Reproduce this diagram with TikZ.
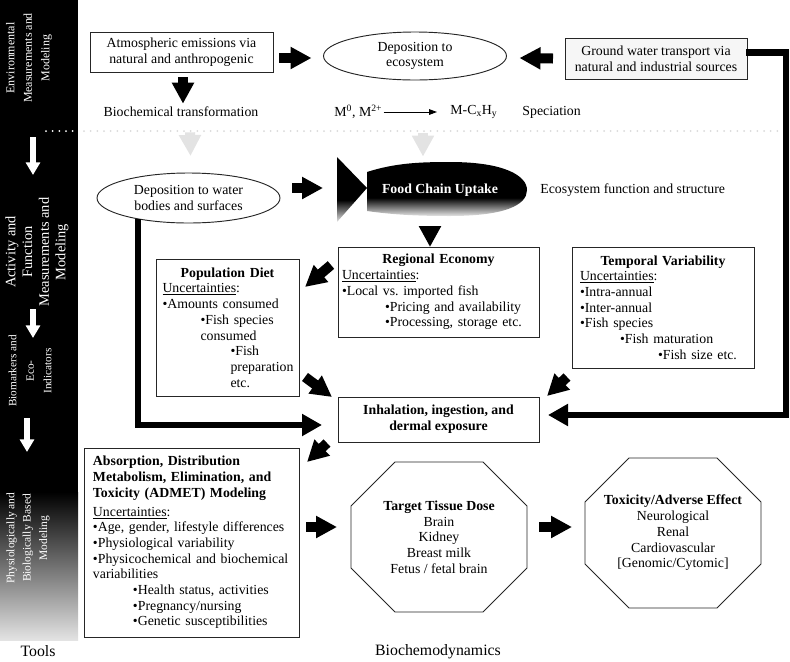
\documentclass[tikz,border=0pt]{standalone}
\usepackage{fontspec}
\setmainfont{Liberation Serif}
\usetikzlibrary{shapes.geometric,arrows.meta,positioning,calc}

\newcommand{\bodyfont}{\fontsize{11.8}{13.4}\selectfont\hyphenpenalty=10000 }
\newcommand{\labelfont}{\fontsize{13.5}{16}\selectfont}
\newcommand{\ind}[1]{\hspace*{#1}}
\newcommand{\unc}{\underline{Uncertainties}:}
\newcommand{\octagon}[1]{%
  \draw[octline] ($(#1.north west)+(44,0)$) -- ($(#1.north east)+(-44,0)$) -- ($(#1.north east)+(0,44)$)
    -- ($(#1.south east)+(0,-44)$) -- ($(#1.south east)+(-44,0)$) -- ($(#1.south west)+(44,0)$)
    -- ($(#1.south west)+(0,-44)$) -- ($(#1.north west)+(0,44)$) -- cycle;}
\pgfdeclareverticalshading{fishfade}{100bp}{color(0bp)=(gray!20); color(25bp)=(gray!20); color(42bp)=(black); color(100bp)=(black)}

\begin{document}
\begin{tikzpicture}[
    x=0.3mm, y=-0.3mm,
    box/.style={rectangle, draw=black!85, line width=0.8pt, outer sep=0pt, font=\bodyfont},
    oval/.style={ellipse, draw=black!85, line width=0.8pt, inner sep=0pt, outer sep=0pt, align=center, font=\bodyfont},
    note/.style={font=\bodyfont, inner sep=1pt},
    sidelabel/.style={rotate=90, text=white, align=center},
    octa/.style={rectangle, minimum width=52.8mm, minimum height=45mm, outer sep=0pt, align=center, font=\bodyfont},
    octline/.style={draw=black!85, line width=0.8pt},
    blk/.style={line width=3mm, -{Triangle[length=6.3mm,width=6.3mm]}},
    greyarr/.style={blk, draw=gray!22, fill=gray!22},
    sidearr/.style={draw=white, line width=1.8mm, -{Triangle[length=3.8mm,width=4.2mm]}},
    thk/.style={line width=2mm, -{Triangle[length=6mm,width=6.3mm]}},
    specarrow/.style={line width=0.8pt, -{Triangle[length=2.4mm,width=1.7mm]}}
]
\useasboundingbox (0,0) rectangle (790,661);

% Tools column
\fill[black] (0,0) rectangle (78,492);
\shade[top color=black, bottom color=gray!22] (0,492) rectangle (78,640);
\node[sidelabel, font=\fontsize{10.2}{14.9}\selectfont] (env) at (29,58) {Environmental\\Measurements and\\Modeling};
\node[sidelabel, font=\fontsize{12.3}{14.2}\selectfont] (act) at (37,252) {Activity and\\Function\\Measurements and\\Modeling};
\node[sidelabel, font=\fontsize{9.6}{14.9}\selectfont] (bio) at (30,371) {Biomarkers and\\Eco-\\Indicators};
\node[sidelabel, font=\fontsize{9.8}{14}\selectfont] (phys) at (28,538) {Physiologically and\\Biologically Based\\Modeling};
\draw[sidearr] ($(env)+(4,79)$) -- ($(act)+(-4,-77)$);
\draw[sidearr] ($(act)+(-4,57)$) -- ($(bio)+(3,-33)$);
\draw[sidearr] ($(bio)+(-3,47)$) -- ($(phys)+(-1,-86)$);
\node[font=\labelfont] (tools) at (38,651) {Tools};

% Separator
\draw[white, line width=0.6mm, line cap=round, dash pattern=on 0pt off 2mm] (46,131) -- (78,131);
\draw[gray!30, line width=0.6mm, line cap=round, dash pattern=on 0pt off 2mm] (84,131) -- (782,131);

% Top row
\node[box, minimum width=54.9mm, minimum height=12mm, align=center] (atm) at (181.5,52) {Atmospheric emissions via\\natural and anthropogenic};
\node[oval, minimum width=54.9mm, minimum height=14.4mm] (dep) at (415,56) {Deposition to\\ecosystem};
\node[box, fill=gray!7, minimum width=54.6mm, minimum height=12.3mm, align=center] (ground) at (656,58.5) {Ground water transport via\\natural and industrial sources};
\node[note] (biochem) at (181,112) {Biochemical transformation};
\node[note, anchor=west] (mlhs) at (333,112) {M\textsuperscript{0}, M\textsuperscript{2+}};
\node[note, anchor=west] (mrhs) at (449,112) {M-C\textsubscript{x}H\textsubscript{y}};
\node[note, anchor=west] (spec) at (521,112) {Speciation};

% Fish
\coordinate (fishtail) at (337,190);
\shade[shading=fishfade] (337,157) -- (367,188) -- (337,222) -- cycle;
\shade[shading=fishfade] (367,172) .. controls (395,163) and (420,162) .. (450,162) .. controls (505,162) and (527,176) .. (527,190)
  .. controls (527,205) and (505,216) .. (450,216) .. controls (420,216) and (395,215) .. (367,211) -- cycle;
\node[font=\bodyfont\bfseries, text=white] (food) at (440,190) {Food Chain Uptake};
\node[note, anchor=west] (eco) at (539,190) {Ecosystem function and structure};
\node[oval, minimum width=54.9mm, minimum height=15mm] (depw) at (188.5,198) {Deposition to water\\bodies and surfaces};

% Uncertainty boxes
\node[box, text width=57.9mm, inner xsep=1.2mm, minimum height=27mm, align=left] (econ) at (438.5,292) {%
  \hfill\textbf{Regional Economy}\hfill\mbox{}\\
  \unc\\
  \textbullet Local vs.\ imported fish\\
  \ind{12.9mm}\textbullet Pricing and availability\\
  \ind{12.9mm}\textbullet Processing, storage etc.};
\node[box, text width=49.8mm, inner xsep=2.4mm, minimum height=36.3mm, align=left] (temp) at (663,307.5) {%
  \hfill\textbf{Temporal Variability}\hfill\mbox{}\\
  \unc\\
  \textbullet Intra-annual\\
  \textbullet Inter-annual\\
  \textbullet Fish species\\
  \ind{12mm}\textbullet Fish maturation\\
  \ind{23.4mm}\textbullet Fish size etc.};
\node[box, text width=39mm, inner xsep=1.95mm, minimum height=41.1mm, align=left] (diet) at (227.5,327.5) {%
  \hfill\textbf{Population Diet}\hfill\mbox{}\\
  \unc\\
  \textbullet Amounts consumed\\
  \ind{11.4mm}\textbullet Fish species\\
  \ind{11.4mm}consumed\\
  \ind{20.4mm}\textbullet Fish\\
  \ind{20.4mm}preparation\\
  \ind{20.4mm}etc.};
\node[box, minimum width=60.3mm, minimum height=13.5mm, align=center, font=\bodyfont\bfseries] (inh) at (438.5,419.5) {Inhalation, ingestion, and\\dermal exposure};
\node[box, text width=59.1mm, inner xsep=2.7mm, minimum height=56.7mm, align=left] (admet) at (191.5,542.5) {%
  \textbf{Absorption, Distribution}\\
  \textbf{Metabolism, Elimination, and}\\
  \textbf{Toxicity (ADMET) Modeling}\\[1mm]
  \unc\\
  \textbullet Age, gender, lifestyle differences\\
  \textbullet Physiological variability\\
  \textbullet Physicochemical and biochemical\\
  variabilities\\
  \ind{12mm}\textbullet Health status, activities\\
  \ind{12mm}\textbullet Pregnancy/nursing\\
  \ind{12mm}\textbullet Genetic susceptibilities};

% Dose and effect
\node[octa] (target) at (439,537) {\textbf{Target Tissue Dose}\\Brain\\Kidney\\Breast milk\\Fetus / fetal brain};
\octagon{target}
\node[octa] (tox) at (673,533) {\textbf{Toxicity/Adverse Effect}\\Neurological\\Renal\\Cardiovascular\\ {[Genomic/Cytomic]}};
\octagon{tox}
\node[font=\labelfont] (bcd) at (438,652) {Biochemodynamics};

% Edges
\draw[blk] ($(atm.east)+(6,6)$) -- ($(dep.west)+(-12,2)$);
\draw[blk] ($(ground.west)+(-12,0)$) -- ($(dep.east)+(13,2)$);
\draw[blk] ($(atm.south)+(1.5,5)$) -- ($(biochem.north)+(2,-2)$);
\draw[specarrow] (mlhs.east) -- ($(mrhs.west)+(-12,0)$);
\draw[greyarr] ($(biochem.south)+(9,14)$) -- ($(depw.north)+(2,-17)$);
\draw[greyarr] ($(dep.south)+(8,53)$) -- ($(food.north)+(-17,-23)$);
\draw[blk] ($(depw.east)+(12,-10)$) -- ($(fishtail)+(-14,-2)$);
\draw[blk] ($(food.south)+(-10,27.5)$) -- ($(econ.north)+(-8.5,0)$);
\draw[blk] ($(econ.north west)+(-7,18)$) -- ($(diet.north east)+(6,28)$);
\draw[blk] ($(diet.east)+(6,49.5)$) -- ($(inh.north west)+(-6,0)$);
\draw[blk] ($(temp.south west)+(-5,9)$) -- ($(inh.north east)+(8,-1)$);
\draw[blk] ($(inh.south west)+(-11,1)$) -- ($(admet.north east)+(8,14)$);
\draw[blk] ($(admet.east)+(7,-15.5)$) -- ($(target.west)+(-14,-10)$);
\draw[blk] ($(target.east)+(12,-10)$) -- ($(tox.west)+(-13,-6)$);

% Transport lines
\coordinate (gwturn) at (786,415);
\draw[thk] ($(ground.east)+(-1,-6)$) -| (gwturn) -- ($(inh.east)+(9,-4.5)$);
\draw[thk] ($(depw.south)+(-50.5,-4)$) |- ($(inh.west)+(-16,5.5)$);
\end{tikzpicture}
\end{document}
